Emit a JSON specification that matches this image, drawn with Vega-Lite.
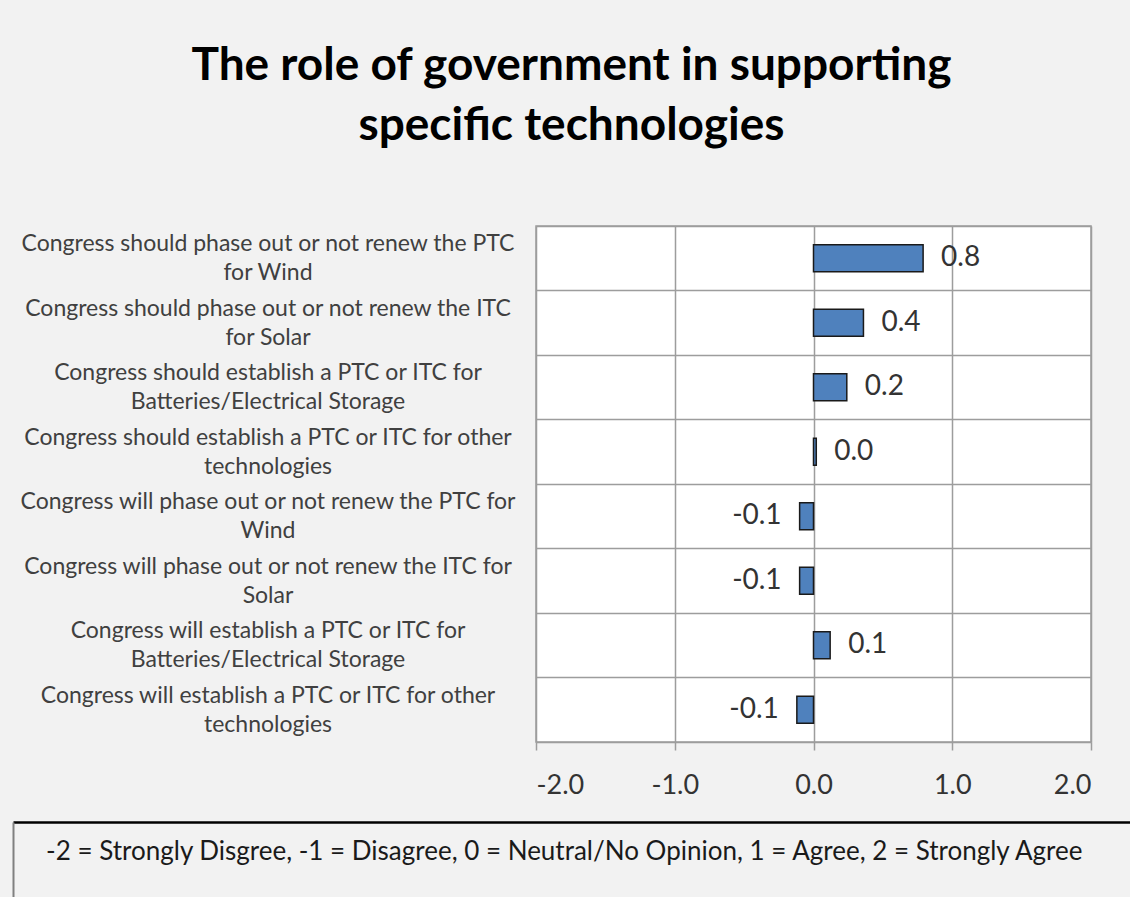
{
  "$schema": "https://vega.github.io/schema/vega-lite/v6.json",
  "background": "#f2f2f2",
  "padding": {"left": 13, "top": 43, "right": 0, "bottom": 0},
  "title": {
    "text": ["The role of government in supporting", "specific technologies"],
    "font": "Lato",
    "fontSize": 46,
    "fontWeight": "bold",
    "lineHeight": 60,
    "color": "#000000",
    "anchor": "middle",
    "offset": 75
  },
  "spacing": 23,
  "config": {
    "font": "Lato",
    "locale": {"number": {"decimal": ".", "thousands": ",", "grouping": [3], "currency": ["$", ""], "minus": "-"}}
  },
  "datasets": {
    "survey": [
      {"statement": "Congress should phase out or not renew the PTC|for Wind", "value": 0.79},
      {"statement": "Congress should phase out or not renew the ITC|for Solar", "value": 0.36},
      {"statement": "Congress should establish a PTC or ITC for|Batteries/Electrical Storage", "value": 0.24},
      {"statement": "Congress should establish a PTC or ITC for other|technologies", "value": 0.02},
      {"statement": "Congress will phase out or not renew the PTC for|Wind", "value": -0.1},
      {"statement": "Congress will phase out or not renew the ITC for|Solar", "value": -0.1},
      {"statement": "Congress will establish a PTC or ITC for|Batteries/Electrical Storage", "value": 0.12},
      {"statement": "Congress will establish a PTC or ITC for other|technologies", "value": -0.12}
    ],
    "note": [
      {"note": "-2 = Strongly Disgree, -1 = Disagree, 0 = Neutral/No Opinion, 1 = Agree, 2 = Strongly Agree", "x": -0.013, "y": 0.6}
    ]
  },
  "vconcat": [
    {
      "spacing": 11,
      "hconcat": [
        {
          "width": 510,
          "height": 516,
          "view": {"fill": null, "stroke": null},
          "data": {"name": "survey"},
          "mark": {"type": "text", "align": "center", "baseline": "middle", "dy": -14, "lineBreak": "|", "lineHeight": 29, "font": "Lato", "fontSize": 23, "color": "#404040"},
          "encoding": {
            "y": {
              "field": "statement",
              "type": "nominal",
              "sort": null,
              "scale": {"paddingInner": 0, "paddingOuter": 0},
              "axis": null
            },
            "text": {"field": "statement", "type": "nominal"}
          }
        },
        {
          "width": 555,
          "height": 516,
          "view": {"fill": "white", "stroke": "#9d9d9d", "strokeWidth": 1.5},
          "data": {"name": "survey"},
          "encoding": {
            "y": {
              "field": "statement",
              "type": "nominal",
              "sort": null,
              "scale": {"paddingInner": 0, "paddingOuter": 0},
              "axis": {
                "title": null,
                "labels": false,
                "bandPosition": 0,
                "ticks": false,
                "domain": false,
                "minExtent": 0,
                "grid": true,
                "gridColor": "#9d9d9d",
                "gridWidth": 1.5,
                "gridOpacity": 1
              }
            },
            "x": {
              "field": "value",
              "type": "quantitative",
              "scale": {"domain": [-2, 2], "nice": false, "zero": false},
              "axis": {
                "title": null,
                "values": [-2, -1, 0, 1, 2],
                "format": ".1f",
                "labelFont": "Lato",
                "labelFontSize": 27,
                "labelColor": "#333333",
                "labelPadding": 22,
                "tickSize": 8,
                "tickColor": "#9d9d9d",
                "tickWidth": 1.5,
                "domainColor": "#9d9d9d",
                "domainWidth": 1.5,
                "grid": true,
                "gridColor": "#9d9d9d",
                "gridWidth": 1.5,
                "gridOpacity": 1
              }
            }
          },
          "layer": [
            {
              "mark": {"type": "bar", "height": {"band": 0.42}, "fill": "#4f81bd", "stroke": "#1a1a1a", "strokeWidth": 1.5}
            },
            {
              "transform": [{"filter": "datum.value >= 0"}],
              "mark": {"type": "text", "align": "left", "baseline": "middle", "dx": 18, "font": "Lato", "fontSize": 28, "color": "#333333"},
              "encoding": {"text": {"field": "value", "type": "quantitative", "format": ".1f"}}
            },
            {
              "transform": [{"filter": "datum.value < 0"}],
              "mark": {"type": "text", "align": "right", "baseline": "middle", "dx": -18, "font": "Lato", "fontSize": 28, "color": "#333333"},
              "encoding": {"text": {"field": "value", "type": "quantitative", "format": ".1f"}}
            }
          ]
        }
      ]
    },
    {
      "width": 1117,
      "height": 75,
      "view": {"fill": null, "stroke": null},
      "data": {"name": "note"},
      "mark": {"type": "text", "align": "center", "baseline": "middle", "font": "Lato", "fontSize": 26, "color": "#1a1a1a"},
      "encoding": {
        "x": {
          "field": "x",
          "type": "quantitative",
          "scale": {"domain": [-1, 1], "nice": false},
          "axis": {"orient": "top", "title": null, "labels": false, "ticks": false, "grid": false, "domain": true, "domainColor": "#000000", "domainWidth": 2.5, "minExtent": 0}
        },
        "y": {
          "field": "y",
          "type": "quantitative",
          "scale": {"domain": [0, 1], "nice": false},
          "axis": {"orient": "left", "title": null, "labels": false, "ticks": false, "grid": false, "domain": true, "domainColor": "#808080", "domainWidth": 2, "minExtent": 0}
        },
        "text": {"field": "note", "type": "nominal"}
      }
    }
  ]
}
